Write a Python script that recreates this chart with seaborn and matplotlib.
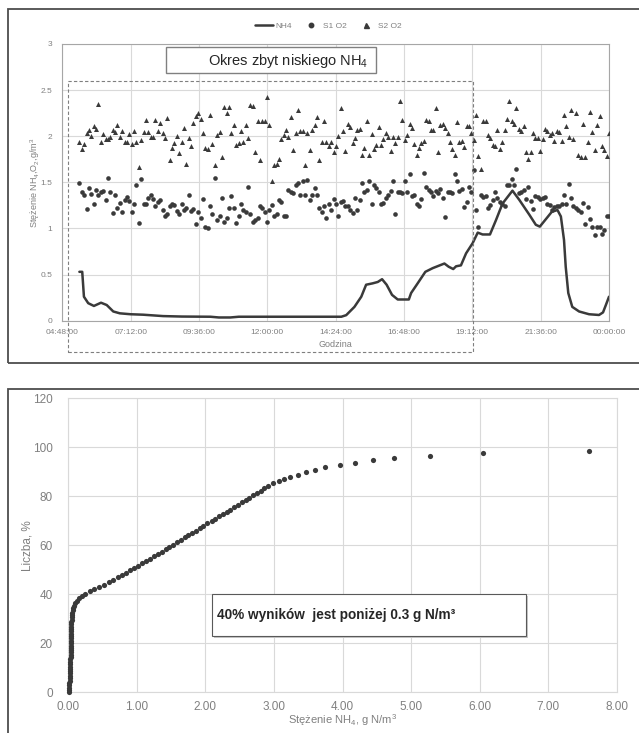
import numpy as np
import matplotlib
matplotlib.use("Agg")
import matplotlib.pyplot as plt
from matplotlib.patches import Rectangle
from matplotlib.lines import Line2D
import seaborn as sns

# ---------------- data: top chart ----------------
nh4_hours = [5.40, 5.50, 5.56, 5.71, 5.91, 6.16, 6.36, 6.59, 6.82, 7.20,
             7.64, 8.34, 9.0, 10.0, 10.3, 10.7, 11.0, 12.0, 13.0, 14.0,
             14.6, 14.77, 15.06, 15.30, 15.47, 15.70, 15.88, 16.03, 16.19, 16.38,
             16.58, 16.97, 17.05, 17.28, 17.55, 17.81, 18.22, 18.37, 18.53, 18.63,
             18.80, 18.98, 19.21, 19.39, 19.56, 19.82, 20.03, 20.26, 20.61, 20.85,
             21.20, 21.43, 21.57, 21.78, 21.99, 22.19, 22.31, 22.42, 22.48, 22.57,
             22.71, 22.95, 23.30, 23.65, 23.79, 23.89, 24.0]
nh4_vals = [0.53, 0.53, 0.26, 0.19, 0.16, 0.195, 0.17, 0.10, 0.08, 0.07,
            0.065, 0.05, 0.045, 0.043, 0.035, 0.035, 0.043, 0.043, 0.043, 0.043,
            0.043, 0.06, 0.15, 0.26, 0.39, 0.405, 0.42, 0.45, 0.39, 0.28,
            0.23, 0.23, 0.30, 0.405, 0.53, 0.57, 0.62, 0.585, 0.56, 0.59,
            0.60, 0.73, 0.84, 0.955, 0.935, 0.935, 1.09, 1.27, 1.41, 1.31,
            1.15, 1.04, 1.02, 1.10, 1.18, 1.20, 1.13, 0.875, 0.585, 0.30,
            0.15, 0.10, 0.07, 0.062, 0.09, 0.17, 0.26]

o2_start_hour, o2_end_hour = 5.40, 24.0

s1_o2 = [1.49, 1.40, 1.36, 1.21, 1.44, 1.37, 1.26, 1.42, 1.36, 1.40,
         1.41, 1.31, 1.55, 1.39, 1.17, 1.36, 1.22, 1.28, 1.18, 1.31,
         1.34, 1.30, 1.18, 1.27, 1.47, 1.06, 1.54, 1.26, 1.26, 1.33,
         1.36, 1.32, 1.24, 1.29, 1.31, 1.20, 1.14, 1.16, 1.24, 1.26,
         1.25, 1.19, 1.16, 1.26, 1.20, 1.22, 1.36, 1.19, 1.21, 1.05,
         1.18, 1.11, 1.32, 1.02, 1.00, 1.24, 1.16, 1.55, 1.09, 1.13,
         1.33, 1.07, 1.11, 1.22, 1.35, 1.22, 1.06, 1.14, 1.27, 1.20,
         1.18, 1.45, 1.16, 1.07, 1.09, 1.11, 1.24, 1.22, 1.18, 1.07,
         1.20, 1.25, 1.14, 1.16, 1.31, 1.29, 1.13, 1.14, 1.42, 1.40,
         1.38, 1.47, 1.49, 1.36,
         1.52, 1.36, 1.53, 1.31, 1.36, 1.44, 1.36, 1.22, 1.18, 1.24,
         1.11, 1.27, 1.20, 1.32, 1.27, 1.14, 1.29, 1.30, 1.24, 1.24,
         1.20, 1.17, 1.33, 1.20, 1.31, 1.49, 1.39, 1.42, 1.51, 1.27,
         1.47, 1.44, 1.39, 1.27, 1.28, 1.33, 1.36, 1.41, 1.51, 1.16,
         1.40, 1.40, 1.38, 1.52, 1.40, 1.59, 1.35, 1.36, 1.26, 1.24,
         1.32, 1.60, 1.45, 1.42, 1.39, 1.35, 1.41, 1.38, 1.43, 1.33,
         1.12, 1.39, 1.40, 1.38, 1.59, 1.51, 1.41, 1.43, 1.23, 1.29,
         1.45, 1.39, 1.63, 1.20, 1.02, 1.36, 1.34, 1.35, 1.22, 1.25,
         1.31, 1.40, 1.33, 1.29, 1.27, 1.24, 1.47, 1.47, 1.54, 1.47,
         1.64, 1.38, 1.40, 1.42, 1.32, 1.45, 1.30, 1.21, 1.35, 1.34,
         1.32, 1.33, 1.34, 1.27, 1.25, 1.20, 1.23, 1.24, 1.24, 1.27,
         1.36, 1.27, 1.48, 1.33, 1.24, 1.22, 1.20, 1.18, 1.28, 1.05,
         1.23, 1.10, 1.02, 0.93, 1.02, 1.02, 0.94, 0.98, 1.14, 1.13]

s2_o2 = [1.94, 1.86, 1.92, 2.04, 2.07, 2.00, 2.11, 2.08, 2.35, 1.94,
         2.02, 1.97, 1.97, 1.99, 2.07, 2.05, 2.12, 1.99, 2.06, 1.94,
         1.94, 2.02, 1.92, 2.06, 1.94, 1.67, 1.96, 2.05, 2.18, 2.05,
         1.99, 1.99, 2.18, 2.06, 2.14, 2.03, 1.98, 2.20, 1.74, 1.87,
         1.93, 2.00, 1.82, 1.94, 2.09, 1.70, 1.98, 1.89, 2.14, 2.22,
         2.25, 2.19, 2.03, 1.87, 1.86, 2.23, 1.92, 1.69, 2.01, 2.05,
         1.78, 2.32, 2.25, 2.32, 2.03, 2.12, 1.90, 1.93, 2.06, 1.94,
         2.12, 1.98, 2.34, 2.33, 1.83, 2.17, 1.74, 2.17, 2.17, 2.43,
         2.12, 1.52, 1.69, 1.70, 1.75, 1.97, 2.01, 2.07, 1.99, 2.21,
         1.85, 2.03, 2.28, 2.06,
         2.06, 1.69, 2.03, 1.85, 2.07, 2.12, 2.21, 1.74, 1.94, 2.17,
         1.94, 1.89, 1.94, 1.83, 1.89, 2.00, 2.31, 2.06, 1.84, 2.13,
         2.10, 1.93, 1.98, 2.07, 2.08, 1.80, 1.87, 2.16, 1.80, 2.02,
         1.86, 1.90, 2.10, 1.91, 1.97, 2.04, 1.99, 1.84, 1.99, 1.93,
         1.99, 2.38, 2.18, 1.96, 2.01, 2.13, 2.09, 1.92, 1.80, 1.87,
         1.93, 1.95, 2.18, 2.17, 2.07, 2.07, 2.31, 1.83, 2.12, 2.13,
         2.09, 2.04, 1.94, 1.86, 1.80, 2.15, 1.94, 1.95, 1.88, 2.11,
         2.11, 2.04, 1.96, 2.23, 1.79, 1.65, 2.16, 2.16, 2.01, 1.98,
         1.90, 1.89, 2.07, 1.86, 1.94, 2.07, 2.19, 2.38, 2.17, 2.13,
         2.31, 2.08, 2.06, 2.11, 1.83, 1.75, 1.83, 2.04, 1.98, 1.98,
         1.84, 1.97, 2.08, 2.06, 2.01, 2.04, 1.95, 2.06, 2.05, 1.95,
         2.23, 2.11, 1.99, 2.28, 1.97, 2.25, 1.80, 1.77, 2.13, 1.77,
         1.94, 2.26, 2.05, 1.85, 2.12, 2.22, 1.89, 1.85, 1.79, 2.04]

top_xticks = [4.8, 7.2, 9.6, 12.0, 14.4, 16.8, 19.2, 21.6, 24.0]
top_xticklabels = ["04:48:00", "07:12:00", "09:36:00", "12:00:00", "14:24:00",
                   "16:48:00", "19:12:00", "21:36:00", "00:00:00"]
top_yticks = [0, 0.5, 1, 1.5, 2, 2.5, 3]
top_yticklabels = ["0", "0.5", "1", "1.5", "2", "2.5", "3"]

# ---------------- data: bottom chart ----------------
cdf_pct = [0.0, 1.0, 1.9, 2.9, 3.8, 4.8, 5.7, 6.7, 7.7, 8.6,
           9.6, 10.5, 11.5, 12.4, 13.4, 14.4, 15.3, 16.3, 17.2, 18.2,
           19.1, 20.1, 21.1, 22.0, 23.0, 23.9, 24.9, 25.8, 26.8, 27.8,
           28.7, 29.7, 30.6, 31.6, 32.5, 33.5, 34.5, 35.4, 36.4, 37.3,
           38.3, 39.2, 40.2, 41.2, 42.1, 43.1, 44.0, 45.0, 45.9, 46.9,
           47.9, 48.8, 49.8, 50.7, 51.7, 52.6, 53.6, 54.5, 55.5, 56.5,
           57.4, 58.4, 59.3, 60.3, 61.2, 62.2, 63.2, 64.1, 65.1, 66.0,
           67.0, 67.9, 68.9, 69.9, 70.8, 71.8, 72.7, 73.7, 74.6, 75.6,
           76.6, 77.5, 78.5, 79.4, 80.4, 81.3, 82.3, 83.3, 84.2,
           85.3, 86.4, 87.2, 88.0, 88.7, 89.9, 90.9, 91.9, 92.8, 93.7,
           94.8, 95.8, 96.6, 97.8, 98.6]
cdf_conc = [0.01, 0.01, 0.015, 0.015, 0.015, 0.02, 0.02, 0.02, 0.025,
            0.03, 0.03, 0.03, 0.03, 0.03, 0.03, 0.035, 0.035, 0.035, 0.035, 0.035,
            0.035, 0.04, 0.04, 0.04, 0.04, 0.04, 0.04, 0.045, 0.045, 0.045, 0.045,
            0.05, 0.05, 0.055, 0.06, 0.065, 0.075, 0.085, 0.10, 0.125, 0.16,
            0.20, 0.25, 0.32, 0.38, 0.45, 0.52, 0.59, 0.65, 0.72, 0.78,
            0.84, 0.90, 0.96, 1.02, 1.08, 1.14,
            1.19, 1.25, 1.31, 1.36, 1.42, 1.47, 1.53, 1.58, 1.64, 1.70,
            1.75, 1.81, 1.86, 1.92, 1.97, 2.03, 2.09, 2.14, 2.20, 2.25,
            2.31, 2.36, 2.42, 2.48, 2.53, 2.59, 2.64, 2.70, 2.75, 2.81,
            2.86, 2.92,
            2.99, 3.07, 3.15, 3.24, 3.35, 3.47, 3.60, 3.75, 3.97, 4.18,
            4.44, 4.75, 5.28, 6.05, 7.60]
bottom_xticks = [0, 1, 2, 3, 4, 5, 6, 7, 8]
bottom_yticks = [0, 20, 40, 60, 80, 100, 120]

# ---------------- style ----------------
sns.set_style("white")
plt.rcParams['font.family'] = ['Liberation Sans', 'DejaVu Sans']
plt.rcParams['mathtext.fontset'] = 'custom'
plt.rcParams['mathtext.rm'] = 'Liberation Sans'
plt.rcParams['mathtext.it'] = 'Liberation Sans:italic'
plt.rcParams['mathtext.bf'] = 'Liberation Sans:bold'

W, H = 639, 733
fig = plt.figure(figsize=(W / 100, H / 100), dpi=100)
fig.patch.set_facecolor('white')


def fx(px):
    return px / W


def fy(py):
    return 1 - py / H


DARK = '#3a3a3a'
TICK = '#808080'
GRID = '#d9d9d9'

# outer frames
fig.add_artist(Rectangle((fx(7.5), fy(363)), 1.2, fy(9.3) - fy(363),
                         transform=fig.transFigure, fill=False,
                         ec='#4d4d4d', lw=1.3))
fig.add_artist(Rectangle((fx(7.5), -0.2), 1.2, fy(389) + 0.2,
                         transform=fig.transFigure, fill=False,
                         ec='#4d4d4d', lw=1.3))

# ---------------- top chart ----------------
ax1 = fig.add_axes([fx(62.3), fy(320.7), fx(609) - fx(62.3), fy(44) - fy(320.7)])
ax1.set_axisbelow(True)
ax1.grid(True, color=GRID, lw=0.8)

t1 = np.linspace(o2_start_hour, o2_end_hour, len(s1_o2))
t2 = np.linspace(o2_start_hour, o2_end_hour, len(s2_o2))
sns.scatterplot(x=t1, y=s1_o2, ax=ax1, marker='o', s=11, color=DARK,
                linewidth=0, legend=False, zorder=3)
sns.scatterplot(x=t2, y=s2_o2, ax=ax1, marker='^', s=13, color=DARK,
                linewidth=0, legend=False, zorder=3)
sns.lineplot(x=nh4_hours, y=nh4_vals, ax=ax1, color=DARK, lw=1.8,
             estimator=None, zorder=4)

ax1.set_xlim(4.8, 24.0)
ax1.set_ylim(0, 3)
ax1.set_xticks(top_xticks)
ax1.set_xticklabels(top_xticklabels)
ax1.set_yticks(top_yticks)
ax1.set_yticklabels(top_yticklabels)
ax1.tick_params(axis='both', length=0, labelsize=6, colors=TICK)
ax1.tick_params(axis='x', pad=6)
ax1.tick_params(axis='y', pad=7)
for sp in ax1.spines.values():
    sp.set_color('#a6a6a6')
    sp.set_linewidth(0.8)
ax1.set_xlabel('Godzina', fontsize=6.5, color=TICK)
ax1.set_ylabel(r'Stężenie NH$_4$,O$_2$,g/m$^3$', fontsize=6.5, color=TICK)
ax1.xaxis.set_label_coords(0.5, -0.068)
ax1.yaxis.set_label_coords(-0.037, 0.5)

# legend
handles = [Line2D([], [], color=DARK, lw=1.8),
           Line2D([], [], color=DARK, marker='o', ls='none', markersize=3.2),
           Line2D([], [], color=DARK, marker='^', ls='none', markersize=3.6)]
fig.legend(handles, ['NH4', 'S1 O2', 'S2 O2'], loc='center',
           bbox_to_anchor=(fx(328), fy(26)), ncol=3, frameon=False,
           fontsize=6, labelcolor=TICK, handlelength=2.2, handletextpad=0.3,
           columnspacing=1.2)

# annotation box top
fig.add_artist(Rectangle((fx(166), fy(73)), fx(376) - fx(166), fy(47) - fy(73),
                         transform=fig.transFigure, fc='white', ec='#808080',
                         lw=1.0, zorder=5))
fig.text(fx(208), fy(60.5), r'Okres zbyt niskiego NH$_4$', fontsize=10.5,
         color='#262626', ha='left', va='center', zorder=6)

# dashed rectangle
fig.add_artist(Rectangle((fx(68.3), fy(352)), fx(473.3) - fx(68.3), fy(80.7) - fy(352),
                         transform=fig.transFigure, fill=False, ec='#7f7f7f',
                         lw=0.8, ls=(0, (3, 2)), zorder=6))

# ---------------- bottom chart ----------------
ax2 = fig.add_axes([fx(68.3), fy(692.3), fx(616.7) - fx(68.3), fy(398.3) - fy(692.3)])
ax2.set_axisbelow(True)
ax2.grid(True, color=GRID, lw=0.8)
n = min(len(cdf_conc), len(cdf_pct))
sns.scatterplot(x=cdf_conc[:n], y=cdf_pct[:n], ax=ax2, s=14, color=DARK,
                linewidth=0, legend=False, zorder=3, clip_on=False)
ax2.set_xlim(0, 8)
ax2.set_ylim(0, 120)
ax2.set_xticks(bottom_xticks)
ax2.set_xticklabels([f"{v:.2f}" for v in bottom_xticks])
ax2.set_yticks(bottom_yticks)
ax2.set_yticklabels([str(v) for v in bottom_yticks])
ax2.tick_params(axis='both', length=0, labelsize=8.5, colors=TICK)
ax2.tick_params(axis='x', pad=6)
ax2.tick_params(axis='y', pad=11)
for sp in ax2.spines.values():
    sp.set_color(GRID)
    sp.set_linewidth(0.8)
ax2.set_xlabel(r'Stężenie NH$_4$, g N/m$^3$', fontsize=8, color=TICK)
ax2.set_ylabel('Liczba, %', fontsize=8.5, color=TICK)
ax2.xaxis.set_label_coords(0.5, -0.068)
ax2.yaxis.set_label_coords(-0.063, 0.5)

# annotation box bottom (with shadow)
fig.add_artist(Rectangle((fx(213.5), fy(637.5)), fx(525.7) - fx(211.7), fy(594.3) - fy(635.7),
                         transform=fig.transFigure, fc='#c8c8c8', ec='none', zorder=5))
fig.add_artist(Rectangle((fx(211.7), fy(635.7)), fx(525.7) - fx(211.7), fy(594.3) - fy(635.7),
                         transform=fig.transFigure, fc='white', ec='#595959',
                         lw=0.8, zorder=6))
fig.text(fx(217), fy(615.5), '40% wyników  jest poniżej 0.3 g N/m³', fontsize=9.8,
         fontweight='bold', color='#262626', ha='left', va='center', zorder=7)

fig.savefig('out.png', dpi=100, facecolor='white')
